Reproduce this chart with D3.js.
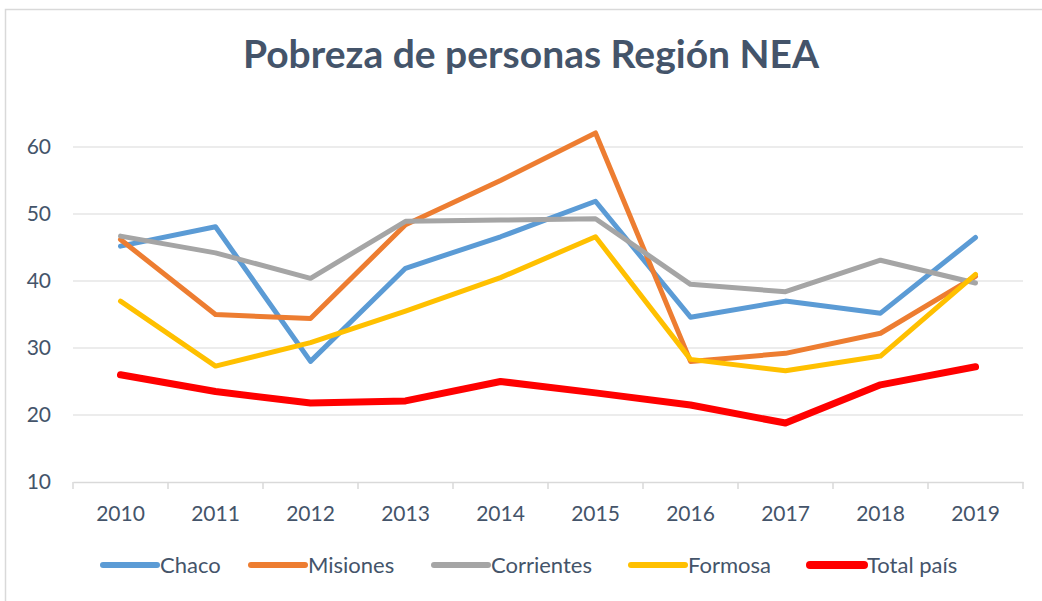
<!DOCTYPE html>
<html>
<head>
<meta charset="utf-8">
<script src="https://cdn.jsdelivr.net/npm/d3@7"></script>
<style>
  body { margin: 0; background: #fff; }
  svg { display: block; font-family: Lato, "Open Sans", sans-serif; }
</style>
</head>
<body>
<svg id="chart" width="1042" height="601"></svg>
<script>
var years = ["2010", "2011", "2012", "2013", "2014", "2015", "2016", "2017", "2018", "2019"];
var yTicks = [10, 20, 30, 40, 50, 60];

var chaco      = [45.2, 48.1, 28.0, 41.9, 46.6, 51.9, 34.6, 37.0, 35.2, 46.5];
var misiones   = [46.2, 35.0, 34.4, 48.4, 55.0, 62.1, 28.0, 29.2, 32.2, 40.7];
var corrientes = [46.7, 44.2, 40.4, 48.9, 49.1, 49.3, 39.5, 38.4, 43.1, 39.7];
var formosa    = [37.0, 27.3, 30.8, 35.5, 40.5, 46.6, 28.3, 26.6, 28.8, 41.0];
var totalPais  = [26.0, 23.5, 21.8, 22.1, 25.0, 23.3, 21.5, 18.8, 24.5, 27.2];

var seriesNames = ["Chaco", "Misiones", "Corrientes", "Formosa", "Total país"];
var seriesValues = [chaco, misiones, corrientes, formosa, totalPais];
var seriesColors = ["#5B9BD5", "#ED7D31", "#A5A5A5", "#FFC000", "#FF0000"];
var seriesWidths = [5, 5, 5, 5, 7];

var svg = d3.select("#chart");
var textColor = "#44546A";

// outer frame
svg.append("rect")
    .attr("x", 5.5).attr("y", 9.5).attr("width", 1040).attr("height", 600)
    .attr("fill", "none").attr("stroke", "#D9D9D9").attr("stroke-width", 1.5);

svg.append("text")
    .attr("x", 531).attr("y", 68)
    .attr("text-anchor", "middle")
    .attr("font-size", 39).attr("font-weight", "bold")
    .attr("fill", textColor)
    .text("Pobreza de personas Región NEA");

var x = d3.scaleBand().domain(years).range([73, 1023]);
var y = d3.scaleLinear().domain([10, 60]).range([482, 147]);

// grid
svg.append("g")
    .selectAll("line")
    .data(yTicks.filter(function (d) { return d > 10; }))
    .enter().append("line")
    .attr("x1", 73).attr("x2", 1023)
    .attr("y1", function (d) { return y(d); }).attr("y2", function (d) { return y(d); })
    .attr("stroke", "#D9D9D9").attr("stroke-width", 1.2);

// y labels
svg.append("g")
    .selectAll("text")
    .data(yTicks)
    .enter().append("text")
    .attr("x", 51).attr("y", function (d) { return y(d) + 7; })
    .attr("text-anchor", "end")
    .attr("font-size", 21).attr("fill", textColor)
    .text(function (d) { return d; });

// x axis
var xAxis = d3.axisBottom(x).tickSize(0).tickSizeOuter(0);
var gx = svg.append("g").attr("transform", "translate(0,482)").call(xAxis);
gx.select(".domain").attr("stroke", "#D9D9D9").attr("stroke-width", 1.5);
gx.selectAll(".tick text")
    .attr("dy", 0).attr("y", 39)
    .attr("font-size", 21).attr("font-family", "Lato, sans-serif").attr("fill", textColor);

var bounds = years.map(function (d) { return x(d); }).concat([x.range()[1]]);
svg.append("g")
    .selectAll("line")
    .data(bounds)
    .enter().append("line")
    .attr("x1", function (d) { return d; }).attr("x2", function (d) { return d; })
    .attr("y1", 482).attr("y2", 489)
    .attr("stroke", "#D9D9D9").attr("stroke-width", 1.5);

// lines
var line = d3.line()
    .x(function (d, i) { return x(years[i]) + x.bandwidth() / 2; })
    .y(function (d) { return y(d); });

svg.append("g")
    .selectAll("path")
    .data(seriesValues)
    .enter().append("path")
    .attr("d", function (d) { return line(d); })
    .attr("fill", "none")
    .attr("stroke", function (d, i) { return seriesColors[i]; })
    .attr("stroke-width", function (d, i) { return seriesWidths[i]; })
    .attr("stroke-linejoin", "round")
    .attr("stroke-linecap", "round");

// legend
var legendX = [103, 251, 434, 631, 810];
var legend = svg.append("g")
    .selectAll("g")
    .data(seriesNames)
    .enter().append("g")
    .attr("transform", function (d, i) { return "translate(" + legendX[i] + ",565)"; });

legend.append("line")
    .attr("x1", 0).attr("x2", 54)
    .attr("stroke", function (d, i) { return seriesColors[i]; })
    .attr("stroke-width", function (d, i) { return seriesWidths[i] + 1; })
    .attr("stroke-linecap", "round");

legend.append("text")
    .attr("x", 57).attr("y", 8)
    .attr("font-size", 22).attr("fill", textColor)
    .text(function (d) { return d; });
</script>
</body>
</html>
